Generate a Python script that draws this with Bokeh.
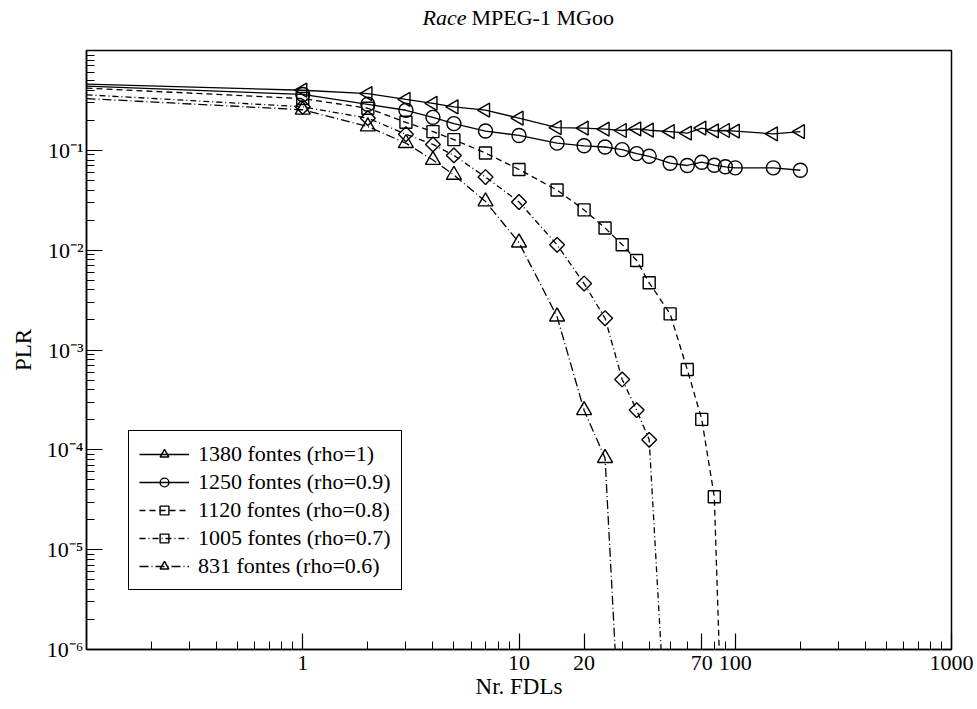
import numpy as np
from bokeh.plotting import figure
from bokeh.models import (Range1d, FixedTicker, CustomJSTickFormatter, Legend,
                          LegendItem, Label)
from bokeh.embed import file_html
from bokeh.resources import INLINE

FONT = "Liberation Serif"

# ---------------- data ----------------
labels = ["1380 fontes (rho=1)", "1250 fontes (rho=0.9)", "1120 fontes (rho=0.8)",
          "1005 fontes (rho=0.7)", "831 fontes (rho=0.6)"]

x_1380 = [0.1, 1, 2, 3, 4, 5, 7, 10, 15, 20, 25, 30, 35, 40, 50, 60, 70, 80, 90, 100, 150, 200]
plr_1380 = [0.46, 0.40, 0.37, 0.324, 0.296, 0.273, 0.253, 0.21, 0.169, 0.167, 0.163, 0.158,
            0.164, 0.159, 0.154, 0.149, 0.167, 0.157, 0.158, 0.156, 0.146, 0.154]

x_1250 = [0.1, 1, 2, 3, 4, 5, 7, 10, 15, 20, 25, 30, 35, 40, 50, 60, 70, 80, 90, 100, 150, 200]
plr_1250 = [0.44, 0.363, 0.289, 0.252, 0.214, 0.185, 0.156, 0.141, 0.118, 0.111, 0.108, 0.1016,
            0.0927, 0.0871, 0.0743, 0.0705, 0.076, 0.071, 0.0684, 0.0668, 0.0668, 0.0632]

x_1120 = [0.1, 1, 2, 3, 4, 5, 7, 10, 15, 20, 25, 30, 35, 40, 50, 60, 70, 80, 90]
plr_1120 = [0.42, 0.33, 0.264, 0.191, 0.154, 0.128, 0.094, 0.0643, 0.040, 0.0253, 0.0167,
            0.01135, 0.00789, 0.00471, 0.0023, 6.37e-4, 2.02e-4, 3.39e-5, 1.2e-8]

x_1005 = [0.1, 1, 2, 3, 4, 5, 7, 10, 15, 20, 25, 30, 35, 40, 50]
plr_1005 = [0.36, 0.273, 0.21, 0.145, 0.1146, 0.089, 0.054, 0.0304, 0.0113, 0.00463, 0.00208,
            5.07e-4, 2.5e-4, 1.26e-4, 2.5e-8]

x_831 = [0.1, 1, 2, 3, 4, 5, 7, 10, 15, 20, 25, 30]
plr_831 = [0.33, 0.255, 0.173, 0.118, 0.080, 0.0567, 0.0307, 0.0119, 0.00216, 2.49e-4,
           8.26e-5, 4.6e-8]

x_major_ticks = [1, 10, 20, 70, 100, 1000]
y_major_ticks = [1e-6, 1e-5, 1e-4, 1e-3, 1e-2, 1e-1]

series = [(x_1380, plr_1380), (x_1250, plr_1250), (x_1120, plr_1120),
          (x_1005, plr_1005), (x_831, plr_831)]

# ---------------- styles ----------------
styles = [
    dict(dash="solid", marker="triangle", angle=np.pi / 2, size=14),
    dict(dash="solid", marker="circle", angle=0.0, size=14),
    dict(dash="6 4", marker="square", angle=0.0, size=12),
    dict(dash="6 3 1 3", marker="square", angle=np.pi / 4, size=10.5),
    dict(dash="9 3 1 3", marker="triangle", angle=0.0, size=15),
]

p = figure(width=977, height=709, x_axis_type="log", y_axis_type="log",
           x_range=Range1d(0.1, 1000), y_range=Range1d(1e-6, 1),
           output_backend="svg", toolbar_location=None,
           min_border_left=86, min_border_right=26, min_border_top=45,
           min_border_bottom=60)
p.title.visible = False
p.xgrid.visible = False
p.ygrid.visible = False
p.outline_line_color = "black"
p.outline_line_width = 1.5
p.outline_line_alpha = 1.0
p.background_fill_color = "white"
p.border_fill_color = "white"

items = []
for (xs, ys), st, lab in zip(series, styles, labels):
    lr = p.line(xs, ys, line_color="black", line_width=1.3, line_dash=st["dash"])
    sr = p.scatter(xs[1:], ys[1:], marker=st["marker"], size=st["size"], angle=st["angle"],
                   line_color="black", fill_color=None, line_width=1.4)
    items.append(LegendItem(label=lab, renderers=[lr, sr]))

# axes
x_minor = [k * 10.0 ** e for e in range(-1, 3) for k in range(2, 10)
           if k * 10.0 ** e not in x_major_ticks]
y_minor = [k * 10.0 ** e for e in range(-6, 0) for k in range(2, 10)]
p.xaxis.ticker = FixedTicker(ticks=x_major_ticks, minor_ticks=x_minor)
p.yaxis.ticker = FixedTicker(ticks=y_major_ticks, minor_ticks=y_minor)
p.xaxis.formatter = CustomJSTickFormatter(code="return String(Math.round(tick));")
p.yaxis.formatter = CustomJSTickFormatter(code=r"""
const sup = {"-":"\u207b","0":"\u2070","1":"\u00b9","2":"\u00b2","3":"\u00b3",
             "4":"\u2074","5":"\u2075","6":"\u2076","7":"\u2077","8":"\u2078","9":"\u2079"};
const e = Math.round(Math.log10(tick));
return "10" + String(e).split("").map(c => sup[c]).join("");
""")

for ax in (p.xaxis[0], p.yaxis[0]):
    ax.major_tick_in = 16
    ax.major_tick_out = 0
    ax.minor_tick_in = 8
    ax.minor_tick_out = 0
    ax.axis_line_width = 1.5
    ax.major_tick_line_width = 1.2
    ax.minor_tick_line_width = 1.0
    ax.axis_line_color = "black"
    ax.major_tick_line_color = "black"
    ax.minor_tick_line_color = "black"
    ax.major_label_text_font = FONT
    ax.major_label_text_font_size = "22px"
    ax.major_label_text_color = "black"
    ax.axis_label_text_font = FONT
    ax.axis_label_text_font_size = "23px"
    ax.axis_label_text_font_style = "normal"
    ax.axis_label_text_color = "black"

p.xaxis.axis_label = "Nr. FDLs"
p.yaxis.axis_label = "PLR"
p.xaxis.major_label_standoff = 6
p.xaxis.axis_label_standoff = 1
p.yaxis.major_label_standoff = 3
p.yaxis.axis_label_standoff = 8

legend = Legend(items=items, location=(42, 59), margin=0, padding=10, spacing=2,
                glyph_width=50, glyph_height=22, label_height=22, label_standoff=9,
                label_text_font=FONT, label_text_font_size="22px",
                label_text_color="black",
                border_line_color="black", border_line_width=1.5, border_line_alpha=1.0,
                background_fill_color="white", background_fill_alpha=1.0)
p.add_layout(legend)

# title (italic + normal part), in the top panel, canvas coordinates
t1 = Label(x=466, y=17, x_units="canvas", y_units="canvas", text="Race",
           text_align="right", text_baseline="middle", text_font=FONT,
           text_font_style="italic", text_font_size="22px", text_color="black")
t2 = Label(x=471, y=17, x_units="canvas", y_units="canvas", text="MPEG-1 MGoo",
           text_align="left", text_baseline="middle", text_font=FONT,
           text_font_size="22px", text_color="black")
p.add_layout(t1, "above")
p.add_layout(t2, "above")

open("out.html", "w").write(file_html(p, INLINE))
